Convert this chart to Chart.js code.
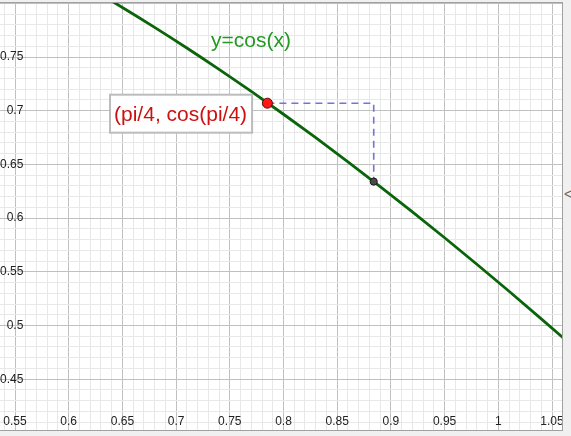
<!DOCTYPE html>
<html>
<head>
<meta charset="utf-8">
<script src="https://cdn.jsdelivr.net/npm/chart.js@4"></script>
<style>
  html, body { margin: 0; padding: 0; }
  body { width: 571px; height: 436px; background: #f0f0f0; position: relative; overflow: hidden; font-family: "Liberation Sans", Arial, sans-serif; }
  #frame { position: absolute; left: 0; top: 2px; width: 562px; height: 427px; background: #fff;
    border-top: 1px solid #a0a0a0; border-right: 1px solid #a0a0a0; border-bottom: 1px solid #a0a0a0; }
  #frame canvas { display: block; }
  #toggle { position: absolute; left: 564px; top: 186px; color: #666; font-size: 14px; }
</style>
</head>
<body>
<div id="frame"><canvas id="graph" width="562" height="427"></canvas></div>
<div id="toggle">&lt;</div>
<script>
// y = cos(x)
const curveX = [0.62, 0.65, 0.68, 0.71, 0.74, 0.77, 0.80, 0.83, 0.86, 0.89, 0.92, 0.95, 0.98, 1.01, 1.04, 1.07];
const curveY = [0.8139, 0.7961, 0.7776, 0.7584, 0.7385, 0.7179, 0.6967, 0.6749, 0.6524, 0.6294, 0.6058, 0.5817, 0.5570, 0.5319, 0.5062, 0.4801];

// dashed guide from the red point across and down to the grey point
const guideX = [0.785, 0.884, 0.884];
const guideY = [0.707, 0.707, 0.634];

const pointX = [0.785, 0.884];
const pointY = [0.707, 0.634];

const xTickValues = [0.55, 0.6, 0.65, 0.7, 0.75, 0.8, 0.85, 0.9, 0.95, 1, 1.05];
const xTickLabels = ["0.55", "0.6", "0.65", "0.7", "0.75", "0.8", "0.85", "0.9", "0.95", "1", "1.05"];
const yTickValues = [0.45, 0.5, 0.55, 0.6, 0.65, 0.7, 0.75];
const yTickLabels = ["0.45", "0.5", "0.55", "0.6", "0.65", "0.7", "0.75"];

const curveName = "y=cos(x)";
const pointName = "(pi/4, cos(pi/4)";

const FONT = '"Liberation Sans", Arial, sans-serif';

function zip(xs, ys) {
  return xs.map((x, i) => ({ x, y: ys[i] }));
}

function isMajor(v) {
  return Math.abs(v * 20 - Math.round(v * 20)) < 1e-6;
}

function labelFor(values, labels, v) {
  const i = values.findIndex(t => Math.abs(t - v) < 1e-6);
  return i < 0 ? "" : labels[i];
}

function gridColor(c) {
  if (!c.tick) return "#e8e8e8";
  return isMajor(c.tick.value) ? "#c0c0c0" : "#e8e8e8";
}

// axes take no room: labels sit inside the plot like the reference
function flatten(s) {
  if (s.isHorizontal()) s.height = 0; else s.width = 0;
  s.paddingLeft = s.paddingRight = s.paddingTop = s.paddingBottom = 0;
}

/* ── text labels on the drawing ── */
const textLabels = {
  id: "textLabels",
  afterDatasetsDraw(chart) {
    const { ctx } = chart;
    const sx = chart.scales.x, sy = chart.scales.y;
    ctx.save();
    ctx.font = "21px " + FONT;
    ctx.textBaseline = "alphabetic";

    ctx.fillStyle = "#229a22";
    ctx.fillText(curveName, sx.getPixelForValue(0.7325), sy.getPixelForValue(0.7593));

    const tx = sx.getPixelForValue(0.6422);
    const ty = sy.getPixelForValue(0.6907);
    const w = ctx.measureText(pointName).width;
    ctx.fillStyle = "#fff";
    ctx.fillRect(tx - 4, ty - 26, w + 9, 38);
    ctx.strokeStyle = "#bcbcbc";
    ctx.lineWidth = 2;
    ctx.strokeRect(tx - 4, ty - 26, w + 9, 38);
    ctx.fillStyle = "#cc1111";
    ctx.fillText(pointName, tx, ty);
    ctx.restore();
  },
};

new Chart(document.getElementById("graph"), {
  type: "scatter",
  data: {
    datasets: [
      {
        label: "points",
        data: zip(pointX, pointY),
        pointRadius: [5, 3.6],
        pointBackgroundColor: ["#ff1a1a", "#4a4a4a"],
        pointBorderColor: ["#6a0000", "#1a1a1a"],
        pointBorderWidth: 1,
        showLine: false,
        order: 0,
      },
      {
        label: "guide",
        data: zip(guideX, guideY),
        showLine: true,
        borderColor: "#7373d9",
        borderWidth: 1.6,
        borderDash: [7, 5],
        pointRadius: 0,
        fill: false,
        order: 1,
      },
      {
        label: "cos",
        data: zip(curveX, curveY),
        showLine: true,
        borderColor: "#0a640a",
        borderWidth: 2.8,
        pointRadius: 0,
        cubicInterpolationMode: "monotone",
        fill: false,
        order: 2,
      },
    ],
  },
  options: {
    responsive: false,
    animation: false,
    devicePixelRatio: 1,
    layout: { padding: 0, autoPadding: false },
    plugins: {
      legend: { display: false },
      tooltip: { enabled: false },
    },
    scales: {
      x: {
        type: "linear",
        position: "bottom",
        min: 0.53603,
        max: 1.05931,
        afterFit: flatten,
        border: { display: false },
        grid: { color: gridColor, lineWidth: 1, drawTicks: false },
        ticks: {
          stepSize: 0.01,
          includeBounds: false,
          autoSkip: false,
          maxRotation: 0,
          mirror: true,
          padding: 1,
          color: "#222",
          font: { family: FONT, size: 12 },
          callback: v => labelFor(xTickValues, xTickLabels, v),
        },
      },
      y: {
        type: "linear",
        position: "left",
        min: 0.4027,
        max: 0.80028,
        afterFit: flatten,
        border: { display: false },
        grid: { color: gridColor, lineWidth: 1, drawTicks: false },
        ticks: {
          stepSize: 0.01,
          includeBounds: false,
          autoSkip: false,
          mirror: true,
          crossAlign: "far",
          padding: 0,
          color: "#222",
          font: { family: FONT, size: 12 },
          callback: v => labelFor(yTickValues, yTickLabels, v),
        },
      },
    },
  },
  plugins: [textLabels],
});
</script>
</body>
</html>
